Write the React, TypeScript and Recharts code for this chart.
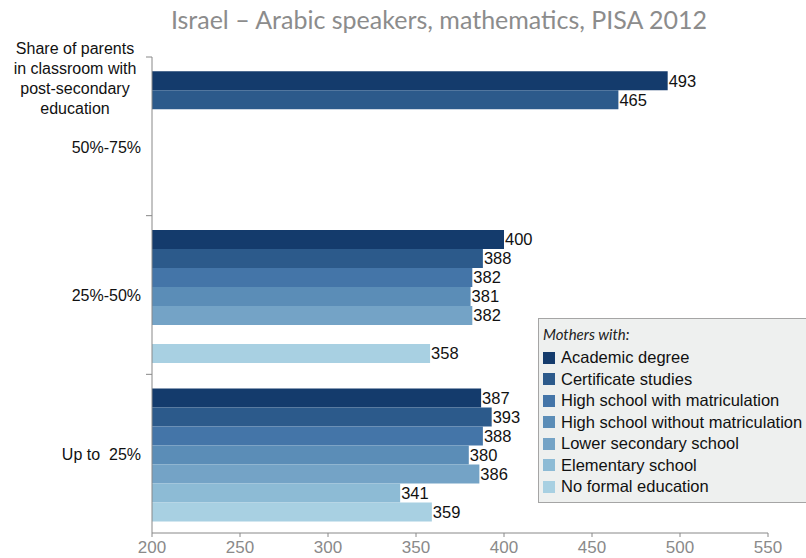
import React from "react"
import { BarChart, Bar, XAxis, YAxis, LabelList } from "recharts"

const categories = ["50%-75%", "25%-50%", "Up to  25%"]
const academic = [493, 400, 387]
const certificate = [465, 388, 393]
const hsWithMatric = [null, 382, 388]
const hsWithoutMatric = [null, 381, 380]
const lowerSecondary = [null, 382, 386]
const elementary = [null, null, 341]
const noFormal = [null, 358, 359]
const xTicks = [200, 250, 300, 350, 400, 450, 500, 550]

const series = [
  { key: "academic", name: "Academic degree", values: academic, color: "#143b6c" },
  { key: "certificate", name: "Certificate studies", values: certificate, color: "#2c5a8b" },
  { key: "hsWith", name: "High school with matriculation", values: hsWithMatric, color: "#4475a8" },
  { key: "hsWithout", name: "High school without matriculation", values: hsWithoutMatric, color: "#5b8db7" },
  { key: "lower", name: "Lower secondary school", values: lowerSecondary, color: "#74a3c6" },
  { key: "elementary", name: "Elementary school", values: elementary, color: "#8dbbd5" },
  { key: "noFormal", name: "No formal education", values: noFormal, color: "#a8d0e2" },
]

const data = categories.map((cat, i) => {
  const row: Record<string, any> = { cat }
  series.forEach((s) => (row[s.key] = s.values[i]))
  return row
})

const TOP = 57
const X_AXIS_H = 25
const BOTTOM = 558 - X_AXIS_H
const BAND = (BOTTOM - TOP) / categories.length
const sans = "Arial, 'Liberation Sans', sans-serif"

function YTick(props: any) {
  const { y, payload, index } = props
  // first label sits a bit lower in the original, under the axis title
  const shift = index === 0 ? 12 : 1
  return (
    <g>
      <line x1={146} x2={152} y1={y - BAND / 2} y2={y - BAND / 2} stroke="#888" />
      <text x={141} y={y + shift} dy={5} textAnchor="end" fontSize={16} fill="#111" fontFamily={sans} style={{ whiteSpace: "pre" }}>
        {payload.value}
      </text>
    </g>
  )
}

// legend drawn as a plain box so it does not take room from the plot
function LegendBox() {
  return (
    <div
      style={{
        position: "absolute",
        left: 538,
        top: 318,
        width: 280,
        height: 185,
        background: "#eef0ef",
        border: "1px solid #a5a5a5",
        boxSizing: "border-box",
        padding: "6px 0 0 4px",
        fontFamily: sans,
      }}
    >
      <div style={{ fontFamily: "Lato, sans-serif", fontStyle: "italic", fontSize: 15, color: "#222", height: 22 }}>
        Mothers with:
      </div>
      {series.map((s) => (
        <div key={s.key} style={{ display: "flex", alignItems: "center", height: 21.5 }}>
          <span style={{ width: 12, height: 12, background: s.color, display: "inline-block", marginRight: 6 }} />
          <span style={{ fontSize: 16.5, color: "#111", whiteSpace: "nowrap" }}>{s.name}</span>
        </div>
      ))}
    </div>
  )
}

export default function App() {
  return (
    <div style={{ position: "absolute", left: 0, top: 0, width: 806, height: 558, background: "#fff", overflow: "hidden" }}>
      <div
        style={{
          position: "absolute",
          left: 0,
          width: 878,
          top: 4,
          textAlign: "center",
          fontFamily: "Lato, 'Open Sans', sans-serif",
          fontSize: 25,
          color: "#8c8c8c",
        }}
      >
        Israel – Arabic speakers, mathematics, PISA 2012
      </div>
      <div
        style={{
          position: "absolute",
          left: 0,
          width: 150,
          top: 39,
          textAlign: "center",
          fontFamily: sans,
          fontSize: 16,
          lineHeight: "20px",
          color: "#111",
        }}
      >
        Share of parents
        <br />
        in classroom with
        <br />
        post-secondary
        <br />
        education
      </div>
      <BarChart
        width={806}
        height={558}
        data={data}
        layout="vertical"
        margin={{ top: TOP, right: 38, bottom: 0, left: 0 }}
        barCategoryGap="9%"
        barGap={0}
      >
        <XAxis
          type="number"
          domain={[200, 550]}
          ticks={xTicks}
          height={X_AXIS_H}
          axisLine={{ stroke: "#888" }}
          tickLine={{ stroke: "#888" }}
          tickSize={4}
          tickMargin={4}
          tick={{ fontSize: 17, fill: "#8a8a8a", fontFamily: sans }}
        />
        <YAxis
          type="category"
          dataKey="cat"
          width={152}
          axisLine={{ stroke: "#888" }}
          tickLine={false}
          tick={<YTick />}
        />
        {series.map((s) => (
          <Bar key={s.key} dataKey={s.key} name={s.name} fill={s.color} isAnimationActive={false}>
            <LabelList dataKey={s.key} position="right" offset={1} fontSize={16.5} fill="#111" fontFamily={sans} />
          </Bar>
        ))}
      </BarChart>
      <LegendBox />
    </div>
  )
}
